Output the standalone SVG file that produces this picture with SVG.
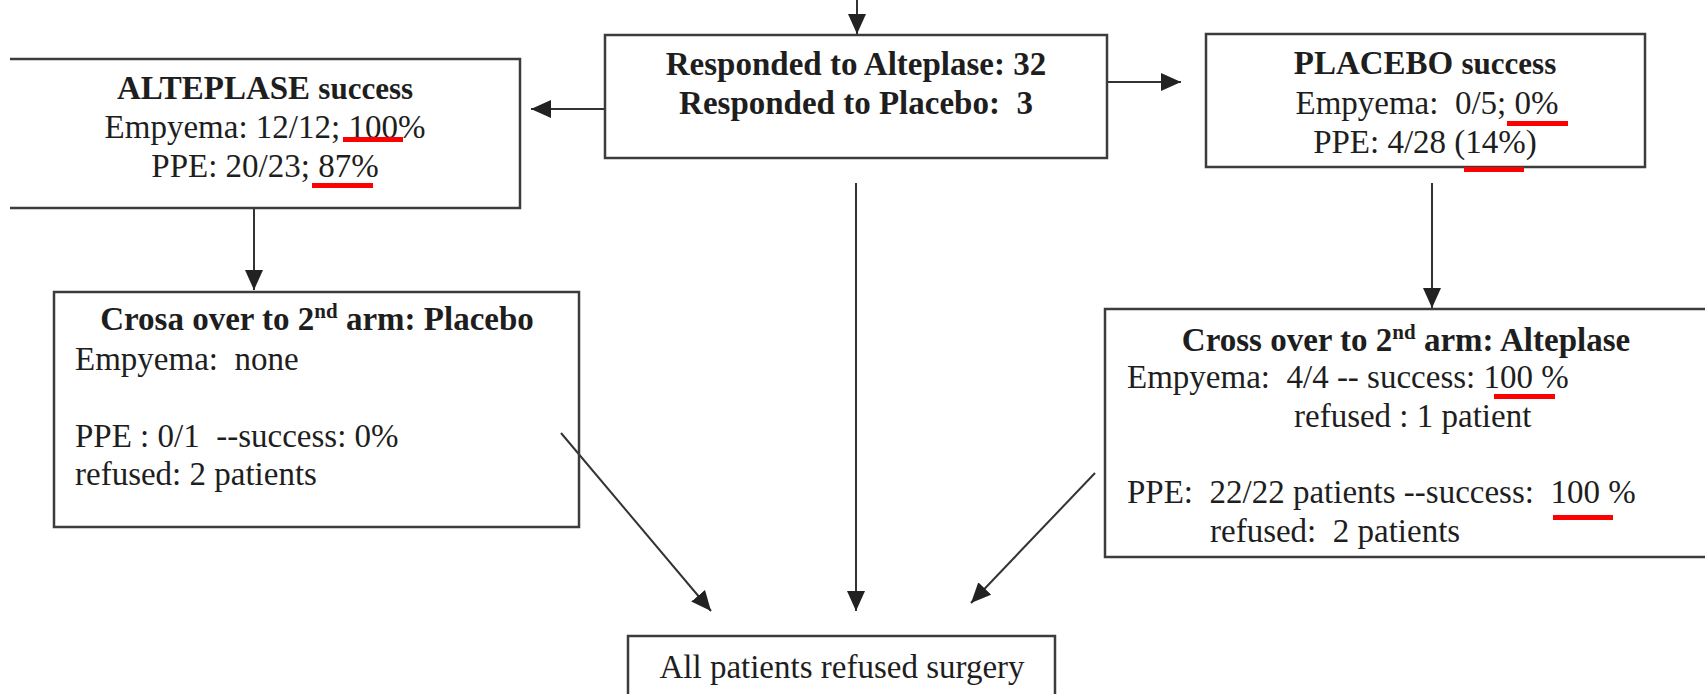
<svg xmlns="http://www.w3.org/2000/svg" width="1705" height="694" viewBox="0 0 1705 694" xml:space="preserve">
<style>
text{font-family:"Liberation Serif","Times New Roman",serif;font-size:33px;fill:#1e1e1e;white-space:pre}
.b{font-weight:bold}
.c{text-anchor:middle}
.box{fill:none;stroke:#3c3c3c;stroke-width:2.5}
.ln{fill:none;stroke:#333;stroke-width:2}
.ul{fill:#f00}
.sup{font-size:21px}
</style>
<defs>
<marker id="ah" viewBox="0 0 20 18" refX="20" refY="9" markerWidth="20" markerHeight="18" markerUnits="userSpaceOnUse" orient="auto">
<path d="M0,0 L20,9 L0,18 z" fill="#222"/>
</marker>
</defs>
<rect width="1705" height="694" fill="#fff"/>
<g id="connectors">
<path class="ln" d="M857,0 V34" marker-end="url(#ah)"/>
<path class="ln" d="M605,109 H531" marker-end="url(#ah)"/>
<path class="ln" d="M1107,82 H1181" marker-end="url(#ah)"/>
<path class="ln" d="M254,208 V290" marker-end="url(#ah)"/>
<path class="ln" d="M1432,183 V308" marker-end="url(#ah)"/>
<path class="ln" d="M856,183 V611" marker-end="url(#ah)"/>
<path class="ln" d="M561,433 L711,611" marker-end="url(#ah)"/>
<path class="ln" d="M1095,473 L971,603" marker-end="url(#ah)"/>
</g>
<g id="responded">
<rect class="box" x="605" y="35" width="502" height="123"/>
<text class="b c" x="856" y="75">Responded to Alteplase: 32</text>
<text class="b c" x="856" y="114">Responded to Placebo:  3</text>
</g>
<g id="alteplase-success">
<path class="box" d="M10,59 H520 V208 H10"/>
<text class="c" x="265" y="99"><tspan class="b">ALTEPLASE</tspan> <tspan class="b" style="font-size:31px">success</tspan></text>
<text class="c" x="265" y="138">Empyema: 12/12; 100%</text>
<text class="c" x="265" y="177">PPE: 20/23; 87%</text>
<rect class="ul" x="343" y="137" width="60" height="5"/>
<rect class="ul" x="312" y="183" width="61" height="5"/>
</g>
<g id="placebo-success">
<rect class="box" x="1206" y="34" width="439" height="133"/>
<text class="c" x="1425" y="74"><tspan class="b">PLACEBO</tspan> <tspan class="b" style="font-size:31px">success</tspan></text>
<text class="c" x="1427" y="114">Empyema:  0/5; 0%</text>
<text class="c" x="1425" y="153">PPE: 4/28 (14%)</text>
<rect class="ul" x="1507" y="121" width="61" height="5"/>
<rect class="ul" x="1464" y="167" width="60" height="5"/>
</g>
<g id="crossover-placebo">
<rect class="box" x="54" y="292" width="525" height="235"/>
<text class="b c" x="317" y="330">Crosa over to 2<tspan class="sup" dy="-12">nd</tspan><tspan dy="12"> arm: Placebo</tspan></text>
<text x="75" y="370">Empyema:  none</text>
<text x="75" y="447">PPE : 0/1  --success: 0%</text>
<text x="75" y="485">refused: 2 patients</text>
</g>
<g id="crossover-alteplase">
<path class="box" d="M1710,309 H1105 V557 H1710"/>
<text class="b c" x="1406" y="351">Cross over to 2<tspan class="sup" dy="-12">nd</tspan><tspan dy="12"> arm: Alteplase</tspan></text>
<text x="1127" y="388">Empyema:  4/4 -- success: 100 %</text>
<text x="1294" y="427">refused : 1 patient</text>
<text x="1127" y="503">PPE:  22/22 patients --success:  100 %</text>
<text x="1210" y="542">refused:  2 patients</text>
<rect class="ul" x="1494" y="394" width="61" height="5"/>
<rect class="ul" x="1553" y="515" width="60" height="5"/>
</g>
<g id="refused-surgery">
<path class="box" d="M628,700 V636 H1055 V700"/>
<text class="c" x="842" y="678">All patients refused surgery</text>
</g>
</svg>
